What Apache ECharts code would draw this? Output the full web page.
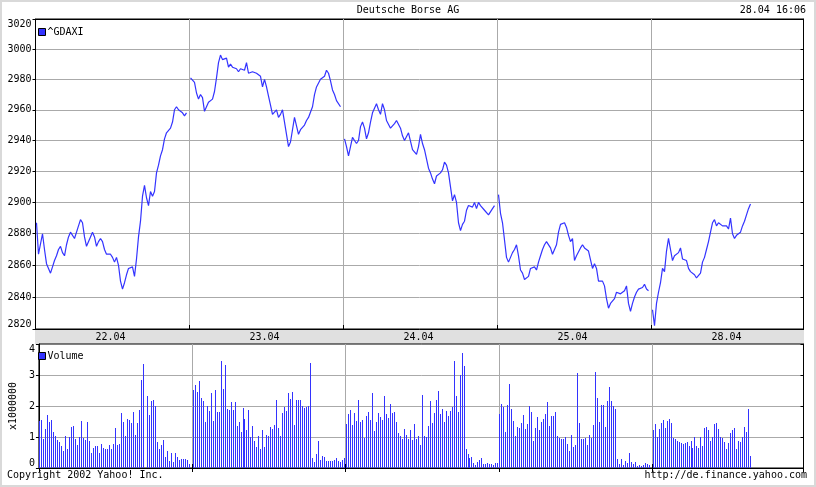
<!DOCTYPE html>
<html><head><meta charset="utf-8">
<script src="https://cdn.jsdelivr.net/npm/echarts@6/dist/echarts.min.js"></script>
<style>html,body{margin:0;padding:0;background:#fff}#c{width:816px;height:487px}</style>
</head><body><div id="c"></div>
<script>
const days = ['22.04', '23.04', '24.04', '25.04', '28.04'];
const daySlots = [77, 77, 77, 77, 76];
const priceTicks = [2820, 2840, 2860, 2880, 2900, 2920, 2940, 2960, 2980, 3000, 3020];

const priceDay1 = [2887, 2867, 2868, 2880, 2870, 2861, 2858, 2855, 2859, 2863,
  2866, 2870, 2872, 2868, 2866, 2873, 2878, 2881, 2880, 2877,
  2878, 2885, 2889, 2887, 2878, 2872, 2872, 2878, 2881, 2878,
  2872, 2875, 2877, 2875, 2870, 2867, 2867, 2867, 2865, 2862,
  2865, 2860, 2850, 2845, 2849, 2854, 2858, 2859, 2859, 2853,
  2864, 2878, 2888, 2904, 2911, 2903, 2898, 2907, 2904, 2907,
  2919, 2924, 2930, 2934, 2941, 2945, 2944, 2948, 2952, 2960,
  2962, 2960, 2959, 2958, 2956, 2958, null];
const priceDay2 = [2981, 2981, 2978, 2971, 2967, 2970, 2968, 2959, 2960, 2965,
  2966, 2967, 2972, 2981, 2991, 2996, 2993, 2992, 2994, 2988,
  2990, 2988, 2987, 2987, 2985, 2987, 2987, 2986, 2991, 2984,
  2984, 2985, 2985, 2984, 2984, 2982, 2975, 2980, 2975, 2969,
  2963, 2957, 2958, 2960, 2955, 2957, 2960, 2952, 2944, 2936,
  2939, 2940, 2955, 2956, 2944, 2947, 2946, 2950, 2953, 2955,
  2954, 2962, 2970, 2975, 2976, 2980, 2979, 2982, 2986, 2984,
  2979, 2973, 2970, 2966, 2965, 2962, null];
const priceDay3 = [2941, 2936, 2930, 2936, 2942, 2940, 2938, 2940, 2949, 2952,
  2948, 2941, 2945, 2952, 2958, 2959, 2964, 2960, 2957, 2964,
  2960, 2953, 2952, 2948, 2948, 2951, 2953, 2953, 2948, 2943,
  2940, 2941, 2945, 2944, 2934, 2934, 2931, 2936, 2944, 2938,
  2934, 2928, 2922, 2919, 2915, 2912, 2917, 2918, 2919, 2921,
  2926, 2924, 2919, 2910, 2901, 2905, 2900, 2887, 2882, 2886,
  2888, 2895, 2898, 2897, 2897, 2900, 2896, 2900, 2898, 2897,
  2895, 2894, 2892, 2893, 2896, 2898, null];
const priceDay4 = [2905, 2893, 2887, 2876, 2865, 2862, 2865, 2868, 2870, 2873,
  2866, 2857, 2855, 2851, 2850, 2853, 2858, 2859, 2859, 2857,
  2862, 2866, 2870, 2873, 2875, 2875, 2871, 2867, 2866, 2873,
  2881, 2886, 2887, 2887, 2884, 2879, 2875, 2877, 2863, 2866,
  2866, 2871, 2873, 2871, 2871, 2869, 2869, 2858, 2861, 2858,
  2850, 2849, 2850, 2847, 2839, 2833, 2836, 2836, 2839, 2843,
  2844, 2842, 2841, 2844, 2847, 2836, 2831, 2836, 2840, 2843,
  2845, 2845, 2846, 2848, 2845, 2844, null];
const priceDay5 = [2832, 2822, 2836, 2843, 2849, 2858, 2856, 2869, 2877, 2870,
  2863, 2866, 2867, 2868, 2871, 2864, 2863, 2863, 2858, 2856,
  2855, 2854, 2852, 2852, 2855, 2862, 2865, 2870, 2875, 2881,
  2887, 2889, 2885, 2887, 2887, 2885, 2884, 2885, 2883, 2890,
  2880, 2877, 2879, 2880, 2881, 2885, 2888, 2892, 2896, 2899];

const volDay1 = [1.52, 1.56, 0.93, 1.27, 1.72, 1.49, 1.56, 1.16, 1.02, 0.91,
  0.85, 0.72, 0.56, 1.02, 0.62, 1.00, 1.33, 1.36, 0.93, 0.75,
  1.01, 1.52, 0.96, 0.91, 1.49, 0.87, 0.50, 0.64, 0.72, 0.72,
  0.50, 0.78, 0.64, 0.61, 0.61, 0.75, 0.61, 0.78, 1.29, 0.73,
  0.78, 1.78, 1.49, 1.04, 1.59, 1.56, 1.46, 1.82, 1.07, 1.46,
  1.86, 2.84, 3.36, 0, 2.33, 1.70, 2.15, 2.20, 1.99, 0.85,
  0.62, 0.75, 0.91, 0.37, 0.56, 0.22, 0.49, 0.18, 0.50, 0.34,
  0.27, 0.30, 0.29, 0.30, 0.27, 0.14, null];
const volDay2 = [2.53, 2.69, 2.46, 2.82, 2.27, 2.17, 1.49, 2.01, 1.85, 2.43,
  1.52, 2.53, 1.82, 1.82, 3.46, 2.56, 3.33, 1.91, 1.88, 2.14,
  1.88, 2.14, 1.37, 1.49, 1.17, 1.95, 1.59, 1.24, 1.88, 1.01,
  1.37, 0.88, 0.69, 1.04, 0.62, 1.24, 0.69, 1.08, 1.04, 1.32,
  1.27, 1.40, 2.20, 1.30, 1.04, 1.78, 1.97, 1.85, 2.43, 2.24,
  2.46, 1.40, 2.20, 2.20, 2.20, 2.01, 1.95, 1.97, 2.01, 3.40,
  0.33, 0.20, 0.46, 0.88, 0.27, 0.40, 0.36, 0.24, 0.24, 0.24,
  0.24, 0.27, 0.33, 0.24, 0.20, 0.27, 0.33];
const volDay3 = [1.43, 1.75, 1.88, 1.40, 1.78, 1.52, 2.20, 1.49, 1.56, 0.98,
  1.69, 1.82, 1.56, 2.43, 1.20, 1.49, 1.78, 1.65, 1.56, 2.33,
  1.75, 1.62, 2.07, 1.78, 1.82, 1.49, 1.14, 1.04, 0.95, 1.27,
  1.08, 0.95, 1.23, 0.91, 1.43, 0.95, 1.04, 0.75, 2.36, 1.04,
  1.01, 1.36, 2.17, 1.46, 1.78, 2.20, 2.49, 1.75, 1.91, 1.49,
  1.85, 1.69, 1.85, 1.97, 3.46, 2.33, 1.82, 3.01, 3.72, 3.30,
  0.62, 0.46, 0.33, 0.36, 0.17, 0.11, 0.20, 0.27, 0.33, 0.14,
  0.14, 0.17, 0.14, 0.14, 0.11, 0.17, 0.17];
const volDay4 = [1.75, 2.07, 1.97, 1.17, 2.04, 2.72, 1.91, 1.52, 1.04, 1.33,
  1.30, 1.46, 1.72, 1.27, 1.43, 2.01, 1.82, 0.88, 1.30, 1.65,
  1.23, 1.49, 1.59, 1.75, 2.14, 1.36, 1.69, 1.69, 1.82, 1.04,
  0.98, 0.95, 0.95, 1.01, 0.78, 0.56, 1.08, 0.69, 0.75, 3.07,
  1.46, 0.95, 0.95, 0.98, 0.75, 1.08, 0.98, 1.40, 3.11, 2.27,
  1.49, 2.04, 2.04, 1.33, 2.17, 2.62, 2.17, 2.01, 1.91, 0.30,
  0.14, 0.30, 0.11, 0.24, 0.17, 0.49, 0.20, 0.14, 0.20, 0.07,
  0.11, 0.07, 0.11, 0.17, 0.14, 0.11, null];
const volDay5 = [1.23, 1.43, 1.01, 1.27, 1.46, 1.56, 1.30, 1.52, 1.59, 1.46,
  0.98, 0.95, 0.88, 0.85, 0.82, 0.78, 0.82, 0.85, 0.72, 0.88,
  0.65, 1.01, 0.72, 0.65, 1.01, 0.72, 1.30, 1.33, 1.23, 0.88,
  1.01, 1.43, 1.46, 1.27, 1.01, 0.98, 0.85, 0.62, 0.82, 1.14,
  1.23, 1.30, 0.62, 0.88, 0.85, 1.01, 1.33, 1.17, 1.89, 0.40];

const pad = (a, n) => a.concat(new Array(Math.max(0, n - a.length)).fill(null)).slice(0, n);
const priceData = [priceDay1, priceDay2, priceDay3, priceDay4, priceDay5].map((a, d) => pad(a, daySlots[d])).flat();
const volData = [volDay1, volDay2, volDay3, volDay4, volDay5].map((a, d) => pad(a, daySlots[d])).flat();
const categories = [];
const starts = [];
days.forEach((d, di) => { starts.push(categories.length); for (let i = 0; i < daySlots[di]; i++) categories.push(d + '|' + i); });
const labelIdx = starts.map(s => s + 37);

const FONT = 'DejaVu Sans Mono';
const BLUE = '#3333ff';
const GRID = '#aaaaaa';
const txt = {fontFamily: FONT, fontSize: 10, color: '#000', fontWeight: 'normal'};
const dayStart = i => starts.indexOf(i) >= 0;
const dayMid = i => labelIdx.indexOf(i) >= 0;

function xAx(grid, pos, opts) {
  return Object.assign({
    type: 'category', gridIndex: grid, position: pos, data: categories, boundaryGap: true,
    axisLine: {show: true, lineStyle: {color: '#000', width: 1}},
    axisTick: {show: true, inside: true, length: 4, interval: dayStart, lineStyle: {color: '#000'}},
    axisLabel: {show: false},
    splitLine: {show: false}
  }, opts);
}

// 1px-wide crisp volume bars, positioned through the axis scales
function renderVolume(params, api) {
  const v = api.value(1);
  if (v == null || isNaN(v)) return null;
  const top = api.coord([api.value(0), v]);
  const base = api.coord([api.value(0), 0]);
  const x = Math.floor(top[0]);
  const y = Math.round(top[1]);
  return {type: 'rect', shape: {x: x, y: y, width: 1, height: Math.round(base[1]) - y},
          style: {fill: BLUE}};
}

const chart = echarts.init(document.getElementById('c'), null, {renderer: 'canvas'});
chart.setOption({
  animation: false,
  color: [BLUE],
  backgroundColor: '#fff',
  title: [
    {text: 'Deutsche Borse AG', left: 'center', top: 5, padding: 0, textStyle: txt},
    {text: '28.04 16:06', right: 10, top: 5, padding: 0, textStyle: txt},
    {text: 'Copyright 2002 Yahoo! Inc.', left: 7, top: 470, padding: 0, textStyle: txt},
    {text: 'http://de.finance.yahoo.com', right: 9, top: 470, padding: 0, textStyle: txt}
  ],
  legend: [
    {data: ['^GDAXI'], left: 38, top: 27, padding: 0, icon: 'rect', itemWidth: 7, itemHeight: 7,
     itemStyle: {borderColor: '#000', borderWidth: 1}, textStyle: Object.assign({}, txt, {padding: [0, 0, 0, -3]})},
    {data: ['Volume'], left: 38, top: 351, padding: 0, icon: 'rect', itemWidth: 7, itemHeight: 7,
     itemStyle: {color: BLUE, borderColor: '#000', borderWidth: 1}, textStyle: Object.assign({}, txt, {padding: [0, 0, 0, -3]})}
  ],
  graphic: [
    {type: 'rect', z: -1, shape: {x: 35, y: 329, width: 769, height: 15}, style: {fill: '#e0e0e0'}},
    {type: 'rect', z: 100, shape: {x: 1, y: 1, width: 814, height: 485}, style: {fill: 'none', stroke: '#d9d9d9', lineWidth: 2}}
  ],
  grid: [
    {left: 35.5, top: 19, width: 768, height: 310, show: true, backgroundColor: '#fff', borderColor: '#000', borderWidth: 1},
    {left: 35.5, top: 344, width: 768, height: 124, show: true, backgroundColor: '#fff', borderColor: '#000', borderWidth: 1}
  ],
  xAxis: [
    xAx(0, 'bottom', {
      z: 5,
      axisLabel: {show: true, interval: dayMid, margin: 3, formatter: v => v.split('|')[0], fontFamily: FONT, fontSize: 10, color: '#000'},
      splitLine: {show: true, interval: dayStart, showMinLine: false, showMaxLine: false, lineStyle: {color: GRID, width: 1}}
    }),
    xAx(0, 'top', {}),
    xAx(1, 'top', {}),
    xAx(1, 'bottom', {
      splitLine: {show: true, interval: dayStart, showMinLine: false, showMaxLine: false, lineStyle: {color: GRID, width: 1}}
    })
  ],
  yAxis: [
    {type: 'log', logBase: 10, gridIndex: 0, position: 'left', min: 2820, max: 3020,
     axisLine: {show: true, lineStyle: {color: '#000'}},
     axisTick: {show: true, length: 3, customValues: priceTicks, lineStyle: {color: '#000'}},
     axisLabel: {customValues: priceTicks, margin: 4, formatter: v => String(Math.round(v)),
       fontFamily: FONT, fontSize: 10, color: '#000', verticalAlignMaxLabel: 'top', verticalAlignMinLabel: 'bottom'},
     splitLine: {show: true, showMinLine: false, showMaxLine: false, lineStyle: {color: GRID, width: 1}}},
    {type: 'log', logBase: 10, gridIndex: 0, position: 'right', min: 2820, max: 3020,
     axisLine: {show: true, lineStyle: {color: '#000'}},
     axisTick: {show: true, inside: true, length: 3, customValues: priceTicks, lineStyle: {color: '#000'}},
     axisLabel: {show: false}, splitLine: {show: false}},
    {type: 'value', gridIndex: 1, position: 'left', min: 0, max: 4, interval: 1,
     name: 'x1000000', nameLocation: 'middle', nameGap: 18, nameRotate: 90,
     nameTextStyle: {fontFamily: FONT, fontSize: 10, color: '#000'},
     axisLine: {show: true, lineStyle: {color: '#000'}},
     axisTick: {show: true, length: 3, lineStyle: {color: '#000'}},
     axisLabel: {margin: 4, fontFamily: FONT, fontSize: 10, color: '#000', verticalAlignMaxLabel: 'top', verticalAlignMinLabel: 'bottom'},
     splitLine: {show: true, showMinLine: false, showMaxLine: false, lineStyle: {color: GRID, width: 1}}},
    {type: 'value', gridIndex: 1, position: 'right', min: 0, max: 4, interval: 1,
     axisLine: {show: true, lineStyle: {color: '#000'}},
     axisTick: {show: true, inside: true, length: 3, lineStyle: {color: '#000'}},
     axisLabel: {show: false}, splitLine: {show: false}}
  ],
  series: [
    {name: '^GDAXI', type: 'line', xAxisIndex: 0, yAxisIndex: 0, data: priceData,
     showSymbol: false, symbol: 'none', connectNulls: false,
     lineStyle: {color: BLUE, width: 1.2}, itemStyle: {color: BLUE}},
    {name: 'Volume', type: 'custom', xAxisIndex: 3, yAxisIndex: 2,
     data: volData.map((v, i) => [i, v]), encode: {x: 0, y: 1},
     renderItem: renderVolume, itemStyle: {color: BLUE}}
  ]
});
</script>
</body></html>
